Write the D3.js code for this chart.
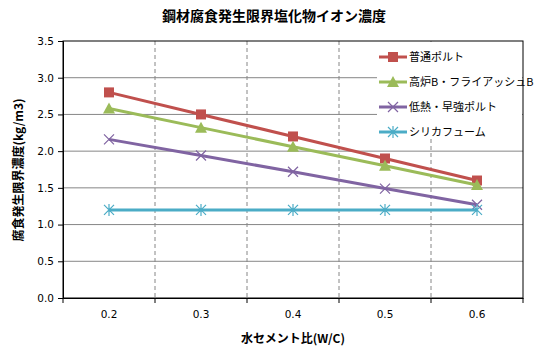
<!DOCTYPE html>
<html><head><meta charset="utf-8">
<script src="https://cdn.jsdelivr.net/npm/d3@7"></script>
<style>body{margin:0;background:#fff}svg{display:block}</style>
</head><body>
<svg id="c" width="544" height="358"></svg>
<script>
const categories = ["0.2","0.3","0.4","0.5","0.6"];
const seriesNames = ["普通ポルト","高炉B・フライアッシュB","低熱・早強ポルト","シリカフューム"];
const futsu = [2.80,2.50,2.20,1.90,1.60];
const kouro = [2.58,2.32,2.06,1.80,1.54];
const teinetsu = [2.16,1.94,1.72,1.49,1.27];
const silica = [1.20,1.20,1.20,1.20,1.20];
const yTicks = [0,0.5,1.0,1.5,2.0,2.5,3.0,3.5];
const colors = ["#C0504D","#9BBB59","#8064A2","#4BACC6"];
const markers = ["square","triangle","x","star"];
const seriesVals = [futsu,kouro,teinetsu,silica];

const svg = d3.select("#c");
const jp = "'Noto Sans CJK JP','Noto Sans',sans-serif";
const num = "'DejaVu Sans',Verdana,sans-serif";
const L=63,R=523,T=41,B=298;
const x = d3.scaleBand().domain(categories).range([L,R]);
const y = d3.scaleLinear().domain([0,3.5]).range([B,T]);

// gridlines
svg.append("g").selectAll("line").data(yTicks.filter(d=>d>0&&d<3.5)).join("line")
  .attr("x1",L).attr("x2",R).attr("y1",d=>y(d)).attr("y2",d=>y(d))
  .attr("stroke","#868686").attr("stroke-width",1);
svg.append("g").selectAll("line").data(categories.slice(1)).join("line")
  .attr("x1",d=>x(d)).attr("x2",d=>x(d)).attr("y1",T).attr("y2",B)
  .attr("stroke","#868686").attr("stroke-dasharray","4,3");
// plot border
svg.append("rect").attr("x",L).attr("y",T).attr("width",R-L).attr("height",B-T)
  .attr("fill","none").attr("stroke","#000").attr("stroke-width",1);

// axes
const yAxis = d3.axisLeft(y).tickValues(yTicks).tickFormat(d3.format(".1f")).tickSize(5).tickPadding(4);
const gy = svg.append("g").attr("transform",`translate(${L},0)`).call(yAxis);
const xAxis = d3.axisBottom(x).tickSize(0).tickPadding(13);
const gx = svg.append("g").attr("transform",`translate(0,${B})`).call(xAxis);
gx.selectAll("line.bt").data(d3.range(categories.length+1)).join("line").attr("class","bt")
  .attr("x1",i=>L+i*x.bandwidth()).attr("x2",i=>L+i*x.bandwidth()).attr("y1",0).attr("y2",5).attr("stroke","#000");
[gx,gy].forEach(g=>{
  g.select(".domain").attr("stroke","#000");
  g.selectAll(".tick line").attr("stroke","#000");
  g.selectAll("text").attr("font-family",num).attr("font-size","10.5px").attr("fill","#000");
});

// series
const line = d3.line().x((d,i)=>x(categories[i])+x.bandwidth()/2).y(d=>y(d));
function marker(g,type,color,cx,cy){
  if(type==="square") g.append("rect").attr("x",cx-5).attr("y",cy-5).attr("width",10).attr("height",10).attr("fill",color);
  else if(type==="triangle") g.append("path").attr("d",`M${cx},${cy-6}L${cx+6},${cy+5}L${cx-6},${cy+5}Z`).attr("fill",color);
  else if(type==="x") g.append("path").attr("d",`M${cx-5},${cy-5}L${cx+5},${cy+5}M${cx-5},${cy+5}L${cx+5},${cy-5}`).attr("stroke",color).attr("stroke-width",1.2).attr("fill","none");
  else g.append("path").attr("d",`M${cx-5},${cy-5}L${cx+5},${cy+5}M${cx-5},${cy+5}L${cx+5},${cy-5}M${cx},${cy-6}L${cx},${cy+6}`).attr("stroke",color).attr("stroke-width",1.2).attr("fill","none");
}
seriesVals.forEach((vals,si)=>{
  svg.append("path").datum(vals).attr("d",line).attr("fill","none").attr("stroke",colors[si]).attr("stroke-width",3);
  const g = svg.append("g");
  vals.forEach((v,i)=>marker(g,markers[si],colors[si],x(categories[i])+x.bandwidth()/2,y(v)));
});

// legend
const lg = svg.append("g");
lg.append("rect").attr("x",377).attr("y",T+1).attr("width",R-377-1).attr("height",96).attr("fill","#fff");
seriesNames.forEach((n,i)=>{
  const ly = 57 + i*25;
  lg.append("line").attr("x1",379).attr("x2",407).attr("y1",ly).attr("y2",ly).attr("stroke",colors[i]).attr("stroke-width",3);
  marker(lg,markers[i],colors[i],393,ly);
  lg.append("text").attr("x",409).attr("y",ly+4).attr("font-family",jp).attr("font-size","11px").text(n);
});

// titles
svg.append("text").attr("x",274).attr("y",21).attr("text-anchor","middle").attr("font-family",jp)
  .attr("font-weight","bold").attr("font-size","14px").text("鋼材腐食発生限界塩化物イオン濃度");
svg.append("text").attr("x",293).attr("y",343).attr("text-anchor","middle").attr("font-family",jp)
  .attr("font-weight","bold").attr("font-size","12px").text("水セメント比(W/C)");
svg.append("text").attr("transform","translate(23,170) rotate(-90)").attr("text-anchor","middle").attr("font-family",jp)
  .attr("font-weight","bold").attr("font-size","12px").text("腐食発生限界濃度(kg/m3)");
</script>
</body></html>
